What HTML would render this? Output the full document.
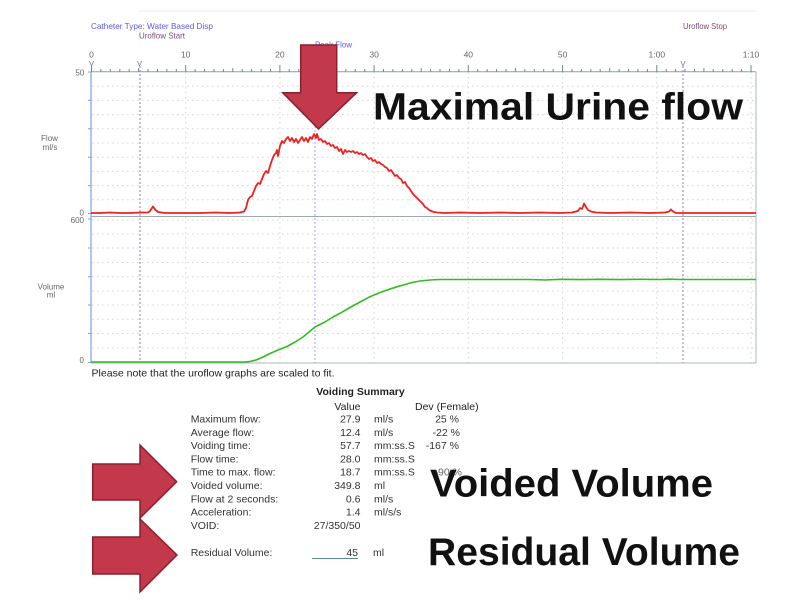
<!DOCTYPE html>
<html><head><meta charset="utf-8"><style>
html,body{margin:0;padding:0;background:#fff;}
svg{display:block;}
text{font-family:"Liberation Sans",Arial,sans-serif;}
</style></head><body>
<svg width="800" height="600" viewBox="0 0 800 600" xmlns="http://www.w3.org/2000/svg">
<rect width="800" height="600" fill="#fff"/>
<line x1="138" y1="11" x2="757" y2="11" stroke="#eeeeee" stroke-width="1"/>

<!-- header labels -->
<text x="91" y="29" font-size="8.5" fill="#5a5ae6" textLength="122" lengthAdjust="spacingAndGlyphs">Catheter Type: Water Based Disp</text>
<text x="139" y="38.7" font-size="8.5" fill="#7a4a7a" textLength="46" lengthAdjust="spacingAndGlyphs">Uroflow Start</text>
<text x="315" y="47.3" font-size="8.5" fill="#5a5ae6" textLength="37" lengthAdjust="spacingAndGlyphs">Peak Flow</text>
<text x="683" y="29" font-size="8.5" fill="#7a4a7a" textLength="44" lengthAdjust="spacingAndGlyphs">Uroflow Stop</text>

<!-- time tick labels -->
<g font-size="8.5" fill="#666" text-anchor="middle">
<text x="91.5" y="57.7">0</text>
<text x="185.7" y="57.7">10</text>
<text x="279.9" y="57.7">20</text>
<text x="374.1" y="57.7">30</text>
<text x="468.3" y="57.7">40</text>
<text x="562.6" y="57.7">50</text>
<text x="656.8" y="57.7">1:00</text>
<text x="751" y="57.7">1:10</text>
</g>
<g font-size="7.5" text-anchor="middle">
<text x="91.5" y="66" fill="#5a5ae6">V</text>
<text x="139.5" y="66" fill="#7a6a8a">V</text>
<text x="683" y="66" fill="#7a6a8a">V</text>
</g>

<!-- horizontal dotted grid -->
<g stroke="#d4d4d4" stroke-width="1" stroke-dasharray="1.5,3.5">
<line x1="92" y1="86.2" x2="756" y2="86.2"/>
<line x1="92" y1="100.4" x2="756" y2="100.4"/>
<line x1="92" y1="114.6" x2="756" y2="114.6"/>
<line x1="92" y1="128.8" x2="756" y2="128.8"/>
<line x1="92" y1="143" x2="756" y2="143"/>
<line x1="92" y1="157.2" x2="756" y2="157.2"/>
<line x1="92" y1="171.4" x2="756" y2="171.4"/>
<line x1="92" y1="185.6" x2="756" y2="185.6"/>
<line x1="92" y1="199.8" x2="756" y2="199.8"/>
<line x1="92" y1="220" x2="756" y2="220"/>
<line x1="92" y1="234" x2="756" y2="234"/>
<line x1="92" y1="248" x2="756" y2="248"/>
<line x1="92" y1="262.5" x2="756" y2="262.5"/>
<line x1="92" y1="276.7" x2="756" y2="276.7"/>
<line x1="92" y1="291" x2="756" y2="291"/>
<line x1="92" y1="305" x2="756" y2="305"/>
<line x1="92" y1="319.3" x2="756" y2="319.3"/>
<line x1="92" y1="333.5" x2="756" y2="333.5"/>
<line x1="92" y1="348" x2="756" y2="348"/>
</g>
<!-- vertical dotted grid -->
<g stroke="#d4d4d4" stroke-width="1" stroke-dasharray="1.5,3.5">
<line x1="185.7" y1="72" x2="185.7" y2="363"/>
<line x1="279.9" y1="72" x2="279.9" y2="363"/>
<line x1="374.1" y1="72" x2="374.1" y2="363"/>
<line x1="468.3" y1="72" x2="468.3" y2="363"/>
<line x1="562.6" y1="72" x2="562.6" y2="363"/>
<line x1="656.8" y1="72" x2="656.8" y2="363"/>
<line x1="751" y1="72" x2="751" y2="363"/>
</g>
<!-- event lines -->
<g stroke-width="1.1" stroke-dasharray="2,2">
<line x1="140" y1="66" x2="140" y2="363" stroke="#9a8aac"/>
<line x1="315" y1="50" x2="315" y2="363" stroke="#a8a8f2"/>
<line x1="683" y1="66" x2="683" y2="363" stroke="#9a8aac"/>
</g>

<!-- frame -->
<line x1="91" y1="71.7" x2="756" y2="71.7" stroke="#8aa0a0" stroke-width="1"/>
<line x1="91" y1="72" x2="91" y2="363" stroke="#7f9fe0" stroke-width="1.2"/>
<line x1="756" y1="72" x2="756" y2="363" stroke="#a8b8b8" stroke-width="1"/>
<line x1="91" y1="216.5" x2="756" y2="216.5" stroke="#a0aaaa" stroke-width="1"/>
<line x1="91" y1="363" x2="756" y2="363" stroke="#a8b8b8" stroke-width="1"/>

<!-- time ticks -->
<g stroke="#6a8a8a" stroke-width="1">
<path d="M91.5 65V72M185.7 65V72M279.9 65V72M374.1 65V72M468.3 65V72M562.6 65V72M656.8 65V72M751 65V72"/>
<path d="M100.9 69V72M110.3 69V72M119.8 69V72M129.2 69V72M138.6 68V72M148 69V72M157.5 69V72M166.9 69V72M176.3 69V72
M195.1 69V72M204.5 69V72M214 69V72M223.4 69V72M232.8 68V72M242.2 69V72M251.6 69V72M261.1 69V72M270.5 69V72
M289.3 69V72M298.7 69V72M308.2 69V72M317.6 69V72M327 68V72M336.4 69V72M345.8 69V72M355.3 69V72M364.7 69V72
M383.5 69V72M392.9 69V72M402.4 69V72M411.8 69V72M421.2 68V72M430.6 69V72M440 69V72M449.5 69V72M458.9 69V72
M477.7 69V72M487.1 69V72M496.6 69V72M506 69V72M515.4 68V72M524.8 69V72M534.3 69V72M543.7 69V72M553.1 69V72
M572 69V72M581.4 69V72M590.8 69V72M600.2 69V72M609.7 68V72M619.1 69V72M628.5 69V72M637.9 69V72M647.4 69V72
M666.2 69V72M675.6 69V72M685 69V72M694.5 69V72M703.9 68V72M713.3 69V72M722.7 69V72M732.2 69V72M741.6 69V72"/>
</g>
<!-- y ticks -->
<g stroke="#7f9fe0" stroke-width="1">
<path d="M88 72H91M88 100.4H91M88 128.8H91M88 157.2H91M88 185.6H91M88 213.5H91M88 219H91M88 248H91M88 276.7H91M88 305H91M88 333.5H91M88 362.5H91"/>
</g>

<!-- axis labels -->
<g font-size="8" fill="#666">
<text x="84.3" y="75.7" text-anchor="end">50</text>
<text x="84" y="215.5" text-anchor="end">0</text>
<text x="84" y="223" text-anchor="end">600</text>
<text x="84" y="363" text-anchor="end">0</text>
<text x="49.5" y="141" text-anchor="middle">Flow</text>
<text x="50" y="150" text-anchor="middle">ml/s</text>
<text x="51" y="289.5" text-anchor="middle">Volume</text>
<text x="51" y="297.5" text-anchor="middle">ml</text>
</g>

<!-- flow curve -->
<polyline fill="none" stroke="#ee2020" stroke-width="1.8" stroke-linejoin="round" points="
91,213 100,213 110,212.5 120,213 130,213 140,212.5 148,212.5 150,211 152,208 153,206.5 155,209.5 158,212 165,213 180,213 200,213 215,212.5 230,213 240,212.5 244,211.5
246,208 248,200 250,197 252,196 254,191 256,186 258,183 260,184 262,179 264,174 266,171 268,173 270,166 272,160 274,155 276,153 277,150 278,156 280,146 282,141
284,143 286,139 288,137 290,141 292,138 294,142 296,139 298,143 300,140 302,137 304,141 306,138 308,142 310,137 312,139 314,134 316,138 317,134 319,140 321,139
323,142 325,141 327,144 329,143 331,146 333,145 335,148 337,147 339,151 341,149 343,154 345,150 347,152 349,151 351,152 353,151 355,153 357,152 359,154 361,153
363,155 365,154 367,157 369,159 371,158 373,161 375,160 377,163 379,162 381,164 383,165 385,167 387,168 389,171 391,170 393,173 395,176 397,175 399,178 401,179
403,183 405,182 407,186 409,188 411,191 413,194 415,196 417,198 419,200 421,202 423,204 425,207 427,208 429,210 431,211 434,212 437,212.5 445,213 460,212.5
480,213 500,212.5 520,213 540,212.5 560,213 572,212.5 578,211 580,208 582,209 584,203.5 586,207 588,210 591,211.5 596,212.5 610,213 630,212.5 650,213 665,212.5
669,211.5 671,209.5 673,211.5 676,213 690,213 710,213 730,213 756,213"/>

<!-- volume curve -->
<polyline fill="none" stroke="#33bb22" stroke-width="1.6" stroke-linejoin="round" points="
91,362 150,362 200,362 245,362 250,361.5 256,360 262,357.5 270,353.5 278,350 287,346.5 295,342 303,337 315,327 325,322 333,317 340,313.3 350,307.5 360,302 370,296.7
380,292.5 390,289 397,286.8 405,284.5 412,282.5 420,281 430,280 440,279.5 460,279.5 500,279.5 530,279.5 545,280 560,279.3 580,279.6 600,279.3 620,279.6 640,279.3
660,279.5 670,279.2 680,279.5 700,279.5 756,279.5"/>

<!-- note -->
<text x="91.5" y="376.7" font-size="10.5" fill="#222" textLength="243" lengthAdjust="spacingAndGlyphs">Please note that the uroflow graphs are scaled to fit.</text>

<!-- voiding summary -->
<text x="360.5" y="395" font-size="10.5" font-weight="bold" fill="#222" text-anchor="middle">Voiding Summary</text>
<text x="360.5" y="410" font-size="10.5" fill="#222" text-anchor="end">Value</text>
<text x="415" y="410" font-size="10.5" fill="#222">Dev (Female)</text>
<g font-size="10.5" fill="#333">
<text x="190.7" y="422.5">Maximum flow:</text>
<text x="190.7" y="435.8">Average flow:</text>
<text x="190.7" y="449.1">Voiding time:</text>
<text x="190.7" y="462.4">Flow time:</text>
<text x="190.7" y="475.7">Time to max. flow:</text>
<text x="190.7" y="489">Voided volume:</text>
<text x="190.7" y="502.3">Flow at 2 seconds:</text>
<text x="190.7" y="515.6">Acceleration:</text>
<text x="190.7" y="528.9">VOID:</text>
<text x="190.7" y="556">Residual Volume:</text>
</g>
<g font-size="10.5" fill="#333" text-anchor="end">
<text x="360.5" y="422.5">27.9</text>
<text x="360.5" y="435.8">12.4</text>
<text x="360.5" y="449.1">57.7</text>
<text x="360.5" y="462.4">28.0</text>
<text x="360.5" y="475.7">18.7</text>
<text x="360.5" y="489">349.8</text>
<text x="360.5" y="502.3">0.6</text>
<text x="360.5" y="515.6">1.4</text>
<text x="360.5" y="528.9">27/350/50</text>
<text x="358" y="556">45</text>
<text x="459" y="422.5">25 %</text>
<text x="460" y="435.8">-22 %</text>
<text x="459" y="449.1">-167 %</text>
<text x="462" y="475.7" fill="#666">-90 %</text>
</g>
<g font-size="10.5" fill="#333">
<text x="374" y="422.5">ml/s</text>
<text x="374" y="435.8">ml/s</text>
<text x="374" y="449.1">mm:ss.S</text>
<text x="374" y="462.4">mm:ss.S</text>
<text x="374" y="475.7">mm:ss.S</text>
<text x="374" y="489">ml</text>
<text x="374" y="502.3">ml/s</text>
<text x="374" y="515.6">ml/s/s</text>
<text x="373" y="556">ml</text>
</g>
<line x1="312" y1="558.5" x2="358" y2="558.5" stroke="#5a8a9a" stroke-width="1"/>

<!-- arrows -->
<polygon points="300.7,45 336.7,45 336.7,92.7 356.7,92.7 318.5,129 282.7,92.7 300.7,92.7" fill="#c3394b" stroke="#8a1f30" stroke-width="1.5" stroke-linejoin="miter"/>
<polygon points="92.7,464 140,464 140,445 176.7,481.7 140,518 140,500 92.7,500" fill="#c3394b" stroke="#8a1f30" stroke-width="1.5"/>
<polygon points="92.7,537 140,537 140,519 177,555 140,592 140,574 92.7,574" fill="#c3394b" stroke="#8a1f30" stroke-width="1.5"/>

<!-- big annotations -->
<text x="373" y="119.3" font-size="38" font-weight="bold" fill="#111" textLength="370" lengthAdjust="spacingAndGlyphs">Maximal Urine flow</text>
<text x="430" y="496.7" font-size="39" font-weight="bold" fill="#111" textLength="283" lengthAdjust="spacingAndGlyphs">Voided Volume</text>
<text x="428" y="565" font-size="39" font-weight="bold" fill="#111" textLength="312" lengthAdjust="spacingAndGlyphs">Residual Volume</text>
</svg>
</body></html>
